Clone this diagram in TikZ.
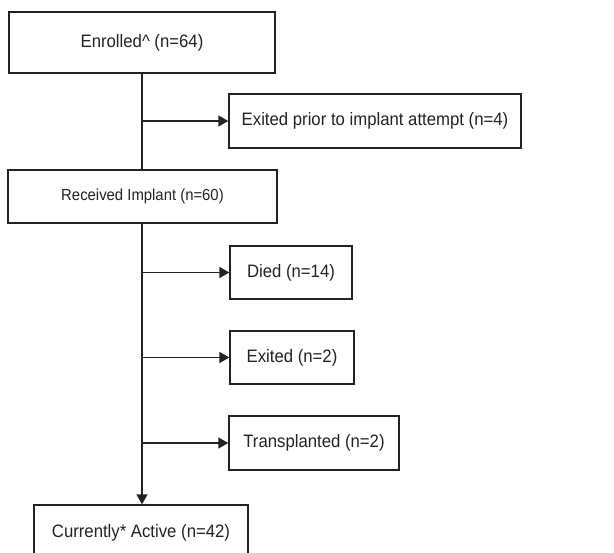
\documentclass[tikz,border=0pt]{standalone}
\usepackage{fontspec}
\setmainfont{Liberation Sans}[FakeStretch=0.93]
\usetikzlibrary{arrows.meta}
\definecolor{ink}{HTML}{222222}
\tikzset{
  box/.style={draw=ink, line width=1.4pt, rectangle, inner sep=0pt, text=ink,
    font=\fontsize{18}{21}\selectfont, anchor=center},
  conn/.style={draw=ink, line width=1.6pt},
  arr/.style={conn, -{Triangle[length=10pt,width=11pt]}}
}
\begin{document}
\begin{tikzpicture}[x=1pt,y=-1pt]
\useasboundingbox (0,0) rectangle (614,553);
\node[box, minimum width=266pt, minimum height=61pt] (enrolled) at (142,42.5) {Enrolled\textasciicircum{} (n=64)};
\node[box, minimum width=292pt, minimum height=54pt] (exitprior) at (375,121) {Exited prior to implant attempt (n=4)};
\node[box, minimum width=269pt, minimum height=53pt, font=\fontsize{16}{19}\selectfont] (received) at (142.5,196.5) {Received Implant (n=60)};
\node[box, minimum width=122pt, minimum height=53pt] (died) at (291,272.5) {Died (n=14)};
\node[box, minimum width=124pt, minimum height=53pt] (exited) at (292,357.5) {Exited (n=2)};
\node[box, minimum width=170pt, minimum height=54pt] (transp) at (314,443) {Transplanted (n=2)};
\node[box, minimum width=214pt, minimum height=56pt] (active) at (141,533) {Currently* Active (n=42)};
\coordinate (j1) at (142,121);
\coordinate (j2) at (142,272.5);
\coordinate (j3) at (142,357.5);
\coordinate (j4) at (142,443);
\draw[conn] (enrolled.south -| j1) -- (received.north -| j1);
\draw[arr] (received.south -| j1) -- (active.north -| j1);
\draw[arr] (j1) -- (exitprior.west);
\draw[arr] (j2) -- (died.west);
\draw[arr] (j3) -- (exited.west);
\draw[arr] (j4) -- (transp.west);
\end{tikzpicture}
\end{document}
